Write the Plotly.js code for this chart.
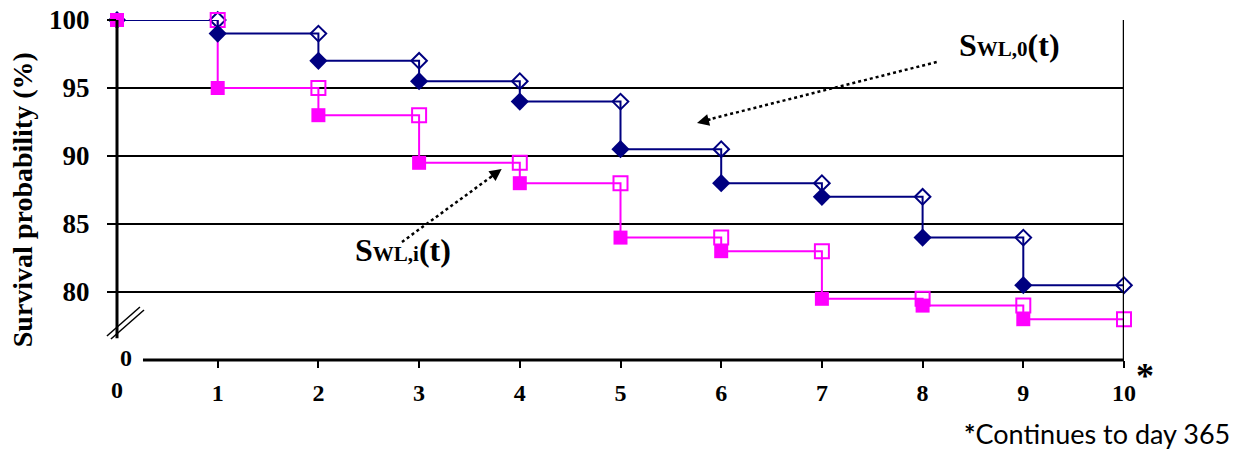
<!DOCTYPE html>
<html>
<head>
<meta charset="utf-8">
<script src="https://cdn.plot.ly/plotly-3.0.1.min.js"></script>
<style>html,body{margin:0;padding:0;background:#fff;}#chart{width:1244px;height:449px;}</style>
</head>
<body>
<div id="chart"></div>
<script>
// ---- data ----
const days = [0, 1, 2, 3, 4, 5, 6, 7, 8, 9, 10];
const survWL0 = [100, 99, 97, 95.5, 94, 90.5, 88, 87, 84, 80.5, 80.5];
const survWLi = [100, 95, 93, 89.5, 88, 84, 83, 79.5, 79, 78, 78];
const yTickVals = [80, 85, 90, 95, 100];
const xTickVals = [1, 2, 3, 4, 5, 6, 7, 8, 9, 10];
const yTitle = 'Survival probability (%)';
const labelWL0 = 'S<span style="font-size:21px">WL,0</span>(t)';
const labelWLi = 'S<span style="font-size:21px">WL,i</span>(t)';
const footnote = '<b>*</b>Continues to day 365';

// ---- styles ----
const BLUE = '#000080';
const PINK = '#FF00FF';
const SERIF = 'Liberation Serif, Times New Roman, serif';

const n = days.length;
const stepX = days;                     // step lines
const filledX = days.slice(0, n - 1);   // value after the drop
const hollowX = days.slice(1);          // value just before the drop

const traces = [
  {x: stepX, y: survWLi, mode: 'lines', cliponaxis: false, line: {shape: 'hv', color: PINK, width: 2}, hoverinfo: 'skip'},
  {x: stepX, y: survWL0, mode: 'lines', cliponaxis: false, line: {shape: 'hv', color: BLUE, width: 2}, hoverinfo: 'skip'},
  {x: hollowX, y: survWL0.slice(0, n - 1), mode: 'markers', cliponaxis: false,
   marker: {symbol: 'diamond-open', size: 12, color: BLUE, line: {width: 2, color: BLUE}}},
  {x: hollowX, y: survWLi.slice(0, n - 1), mode: 'markers', cliponaxis: false,
   marker: {symbol: 'square-open', size: 14, color: PINK, line: {width: 2, color: PINK}}},
  {x: filledX, y: survWL0.slice(0, n - 1), mode: 'markers', cliponaxis: false,
   marker: {symbol: 'diamond', size: 14, color: BLUE}},
  {x: filledX, y: survWLi.slice(0, n - 1), mode: 'markers', cliponaxis: false,
   marker: {symbol: 'square', size: 14, color: PINK}}
];

const layout = {
  width: 1244, height: 449,
  margin: {l: 117, r: 120, t: 20, b: 89},
  paper_bgcolor: '#fff', plot_bgcolor: '#fff',
  showlegend: false,
  xaxis: {
    range: [0, 10], tickvals: xTickVals, ticktext: xTickVals.map(String),
    ticks: 'outside', ticklen: 7, tickwidth: 2, tickcolor: '#000',
    showgrid: false, zeroline: false, showline: false,
    ticklabelstandoff: 4,
    tickfont: {family: SERIF, size: 24, color: '#000', weight: 'bold'}
  },
  yaxis: {
    range: [75, 100], tickvals: yTickVals, ticktext: yTickVals.map(String),
    ticks: 'outside', ticklen: 9, tickwidth: 2, tickcolor: '#000',
    showgrid: true, gridcolor: '#000', gridwidth: 2.5,
    zeroline: false, showline: false,
    ticklabelstandoff: 12,
    tickfont: {family: SERIF, size: 27, color: '#000', weight: 'bold'}
  },
  shapes: [
    // left axis (broken)
    {type: 'line', xref: 'paper', yref: 'y', x0: 0, x1: 0, y0: 76.6, y1: 100, line: {color: '#000', width: 3}},
    // break marks
    {type: 'line', xref: 'paper', yref: 'y', x0: -0.010, x1: 0.0228, y0: 76.76, y1: 78.9, line: {color: '#000', width: 1.5}},
    {type: 'line', xref: 'paper', yref: 'y', x0: -0.006, x1: 0.0268, y0: 76.54, y1: 78.68, line: {color: '#000', width: 1.5}},
    // bottom axis
    {type: 'line', xref: 'paper', yref: 'paper', x0: 0.0258, x1: 1, y0: 0, y1: 0, line: {color: '#000', width: 3}},
    // right border
    {type: 'line', xref: 'x', yref: 'y', x0: 10, x1: 10, y0: 75, y1: 100, line: {color: '#000', width: 2.5}},
    // dotted arrows
    {type: 'line', xref: 'x', yref: 'y', x0: 8.14, y0: 96.91, x1: 5.84, y1: 92.62, line: {color: '#000', width: 2.5, dash: 'dot'}},
    {type: 'line', xref: 'x', yref: 'y', x0: 2.83, y0: 83.68, x1: 3.74, y1: 88.6, line: {color: '#000', width: 2.5, dash: 'dot'}}
  ],
  annotations: [
    {xref: 'x', yref: 'y', x: 5.76, y: 92.43, ax: 15, ay: -3.8, text: '', showarrow: true,
     arrowhead: 2, arrowsize: 1.2, arrowwidth: 2, arrowcolor: '#000', standoff: 0},
    {xref: 'x', yref: 'y', x: 3.82, y: 89.04, ax: -12, ay: 8.8, text: '', showarrow: true,
     arrowhead: 2, arrowsize: 1.2, arrowwidth: 2, arrowcolor: '#000', standoff: 0},
    {xref: 'x', yref: 'y', x: 8.86, y: 98.16, text: labelWL0, showarrow: false,
     font: {family: SERIF, size: 32, color: '#000', weight: 'bold'}},
    {xref: 'x', yref: 'y', x: 2.84, y: 83.09, text: labelWLi, showarrow: false,
     font: {family: SERIF, size: 32, color: '#000', weight: 'bold'}},
    // y-axis title
    {xref: 'paper', yref: 'paper', x: -0.0943, y: 0.47, xanchor: 'center', yanchor: 'middle', textangle: -90,
     text: yTitle, showarrow: false,
     font: {family: SERIF, size: 28, color: '#000', weight: 'bold'}},
    // y-axis "0" below the break
    {xref: 'x', yref: 'y', x: 0.09, y: 75.15, text: '0', showarrow: false,
     font: {family: SERIF, size: 24, color: '#000', weight: 'bold'}},
    // x-axis "0" label (no tick there)
    {xref: 'x', yref: 'paper', x: days[0], y: -0.088, yanchor: 'middle', text: String(days[0]), showarrow: false,
     font: {family: SERIF, size: 24, color: '#000', weight: 'bold'}},
    {xref: 'paper', yref: 'paper', x: 1.0208, y: 0.018, text: '*', showarrow: false, xanchor: 'center', yanchor: 'top',
     font: {family: SERIF, size: 36, color: '#000', weight: 'bold'}},
    {xref: 'paper', yref: 'paper', x: 1.107, y: -0.215, text: footnote, showarrow: false,
     xanchor: 'right', yanchor: 'middle',
     font: {family: 'Lato, Open Sans, sans-serif', size: 27, color: '#000'}}
  ]
};

Plotly.newPlot('chart', traces, layout, {staticPlot: true, displayModeBar: false});
</script>
</body>
</html>
